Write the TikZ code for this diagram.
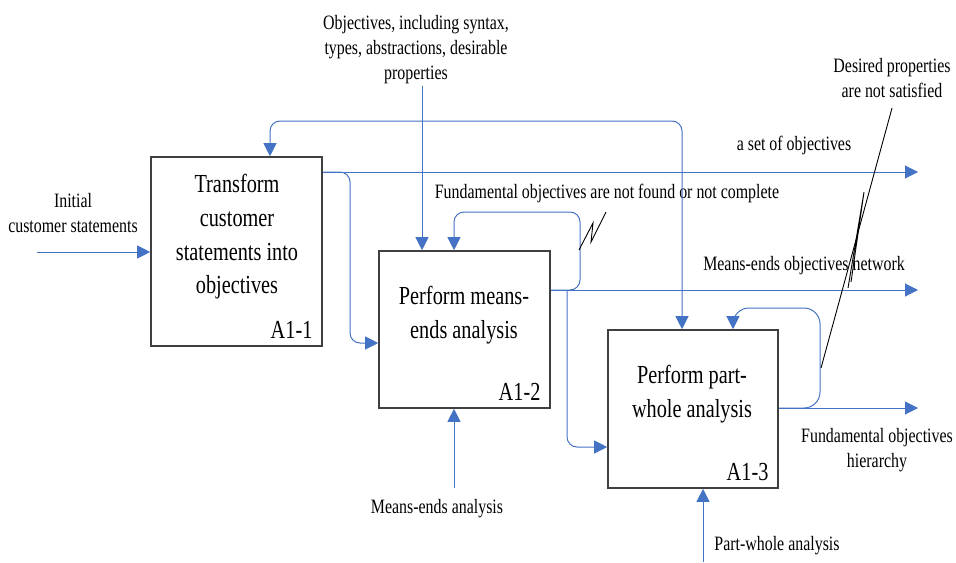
\documentclass[tikz,border=0pt]{standalone}
\usepackage{fontspec}
\setmainfont[FakeStretch=0.78]{Liberation Serif}
\usetikzlibrary{arrows.meta,positioning}
\definecolor{flowcolor}{RGB}{68,114,196}
\colorlet{boxcolor}{black!75}

\begin{document}
\begin{tikzpicture}[x=0.5pt, y=-0.5pt,
    >={Triangle[length=6.5pt, width=6.5pt]},
    actbox/.style={draw=boxcolor, line width=0.8pt, inner sep=0pt},
    acttext/.style={align=center, inner sep=0pt, font=\fontsize{13}{16.8}\selectfont},
    actid/.style={inner sep=0pt, font=\fontsize{13}{16.8}\selectfont},
    lbl/.style={align=center, inner sep=0pt, font=\fontsize{10.2}{12.5}\selectfont},
    flow/.style={draw=flowcolor, line width=0.5pt, ->},
    feed/.style={flow, rounded corners=5pt},
    squiggle/.style={draw=black, line width=0.45pt}]
    \useasboundingbox (0,0) rectangle (956,562);

    % --- activity boxes ---
    \node[actbox, minimum width=85.5pt, minimum height=94.5pt] (a1) at (236.5,251.5) {};
    \node[actbox, minimum width=85.5pt, minimum height=78.5pt] (a2) at (464.5,329.5) {};
    \node[actbox, minimum width=85pt, minimum height=79pt] (a3) at (693,409) {};
    \node[acttext] (a1txt) at (237,237) {Transform\\customer\\statements into\\objectives};
    \node[acttext] (a2txt) at (464,315) {Perform means-\\ends analysis};
    \node[acttext] (a3txt) at (692,394) {Perform part-\\whole analysis};
    \node[actid, above left=4pt and 5pt of a1.south east, anchor=south east] (a1id) {A1-1};
    \node[actid, above left=4pt and 5pt of a2.south east, anchor=south east] (a2id) {A1-2};
    \node[actid, above left=4pt and 5pt of a3.south east, anchor=south east] (a3id) {A1-3};

    % --- free ends ---
    \coordinate (in1) at (37,252);
    \coordinate (objin) at (422,86);
    \coordinate (out1) at (918,172);
    \coordinate (out2) at (918,290);
    \coordinate (out3) at (918,408);
    \coordinate (m2) at (454,488);
    \coordinate (m3) at (703,562);
    \coordinate (fbl) at (270,121);
    \coordinate (fbr) at (682,121);
    \coordinate (br1) at (350,343);
    \coordinate (br2) at (567,447);
    \coordinate (lp2) at (580,212);
    \coordinate (lp2b) at (454,212);
    \coordinate (lp3) at (820,308);
    \coordinate (lp3b) at (733,308);

    % --- labels ---
    \node[lbl] (inlbl) at (73,213) {Initial\\customer statements};
    \node[lbl] (objlbl) at (416,50) {Objectives, including syntax,\\types, abstractions, desirable\\properties};
    \node[lbl, anchor=base] (setlbl) at (794,150) {a set of objectives};
    \node[lbl, anchor=base] (nflbl) at (607,198) {Fundamental objectives are not found or not complete};
    \node[lbl, anchor=base] (netlbl) at (804,270) {Means-ends objectives network};
    \node[lbl] (hierlbl) at (877,450) {Fundamental objectives\\hierarchy};
    \node[lbl] (dplbl) at (892,78) {Desired properties\\are not satisfied};
    \node[lbl, anchor=base] (m2lbl) at (437,513) {Means-ends analysis};
    \node[lbl, anchor=base] (m3lbl) at (777,550) {Part-whole analysis};

    % --- connectors ---
    \draw[flow] (in1) -- (in1 -| a1.west);
    \draw[flow] (objin) -- (objin |- a2.north);
    \draw[feed, <->] (fbl |- a1.north) -- (fbl) -- (fbr) -- (fbr |- a3.north);
    \draw[flow] (out1 -| a1.east) -- (out1);
    \draw[feed] (out1 -| a1.east) -| (br1) -- (br1 -| a2.west);
    \draw[flow] (out2 -| a2.east) -- (out2);
    \draw[feed] (out2 -| a2.east) -| (lp2) -- (lp2b) -- (lp2b |- a2.north);
    \draw[feed] (br2 |- out2) -- (br2) -- (br2 -| a3.west);
    \draw[flow] (out3 -| a3.east) -- (out3);
    \draw[flow, rounded corners=8pt] (out3 -| a3.east) -| (lp3) -- (lp3b) -- (lp3b |- a3.north);
    \draw[flow] (m2) -- (m2 |- a2.south);
    \draw[flow] (m3) -- (m3 |- a3.south);

    % --- squiggles ---
    \draw[squiggle] (579,250) -- (593,223) -- (591,242) -- (606,212);
    \draw[squiggle] (892,108) -- (821,368);
    \draw[squiggle] (848,288) -- (864,192) -- (851,282);
\end{tikzpicture}
\end{document}
